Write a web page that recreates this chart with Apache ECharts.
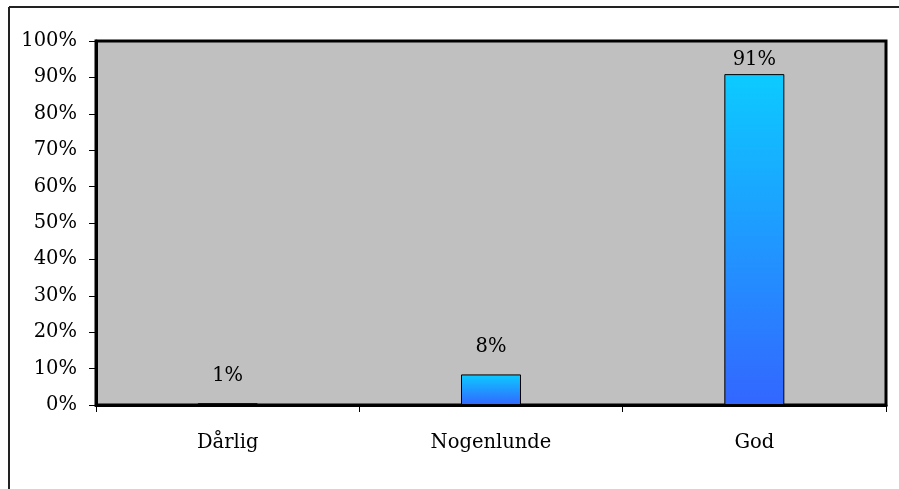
<!DOCTYPE html>
<html>
<head>
<meta charset="utf-8">
<script src="https://cdn.jsdelivr.net/npm/echarts@6/dist/echarts.min.js"></script>
<style>
html,body{margin:0;padding:0;background:#fff;}
#c{width:899px;height:489px;}
</style>
</head>
<body>
<div id="c"></div>
<script>
var categories = ['Dårlig', 'Nogenlunde', 'God'];
var values = [0.5, 8.4, 90.9];
var valueLabels = ['1%', '8%', '91%'];
var yTicks = [0, 10, 20, 30, 40, 50, 60, 70, 80, 90, 100];
var labelGaps = [17, 17, 4];

var FONT = 'DejaVu Serif';
var FS = 19.5;
var chart = echarts.init(document.getElementById('c'));
var data = values.map(function (v, i) {
  return {
    value: v,
    label: { distance: labelGaps[i], formatter: valueLabels[i] }
  };
});
chart.setOption({
  animation: false,
  backgroundColor: '#fff',
  textStyle: { fontFamily: FONT },
  grid: {
    left: 96, right: 13, top: 41, bottom: 84,
    show: true, backgroundColor: '#c0c0c0', borderColor: '#000', borderWidth: 3
  },
  graphic: [
    { type: 'line', shape: { x1: 9, y1: 7, x2: 899, y2: 7 }, style: { stroke: '#222', lineWidth: 2 } },
    { type: 'line', shape: { x1: 9, y1: 7, x2: 9, y2: 489 }, style: { stroke: '#222', lineWidth: 2 } }
  ],
  xAxis: {
    type: 'category',
    data: categories,
    boundaryGap: true,
    axisLine: { lineStyle: { color: '#000', width: 3 } },
    axisTick: { show: true, length: 7, inside: false, lineStyle: { color: '#000', width: 1 } },
    axisLabel: { color: '#000', fontFamily: FONT, fontSize: FS, margin: 28 }
  },
  yAxis: {
    type: 'value',
    min: yTicks[0], max: yTicks[yTicks.length - 1], interval: 10,
    splitLine: { show: false },
    axisLine: { show: true, lineStyle: { color: '#000', width: 3 } },
    axisTick: { show: true, length: 7, lineStyle: { color: '#000', width: 1 } },
    axisLabel: { color: '#000', fontFamily: FONT, fontSize: FS, margin: 19, formatter: '{value}%' }
  },
  series: [{
    type: 'bar',
    data: data,
    barWidth: 60,
    itemStyle: {
      borderColor: '#000', borderWidth: 1,
      color: new echarts.graphic.LinearGradient(0, 0, 0, 1, [
        { offset: 0, color: '#0ccbff' },
        { offset: 1, color: '#3366ff' }
      ])
    },
    label: { show: true, position: 'top', color: '#000', fontFamily: FONT, fontSize: FS }
  }]
});
</script>
</body>
</html>
